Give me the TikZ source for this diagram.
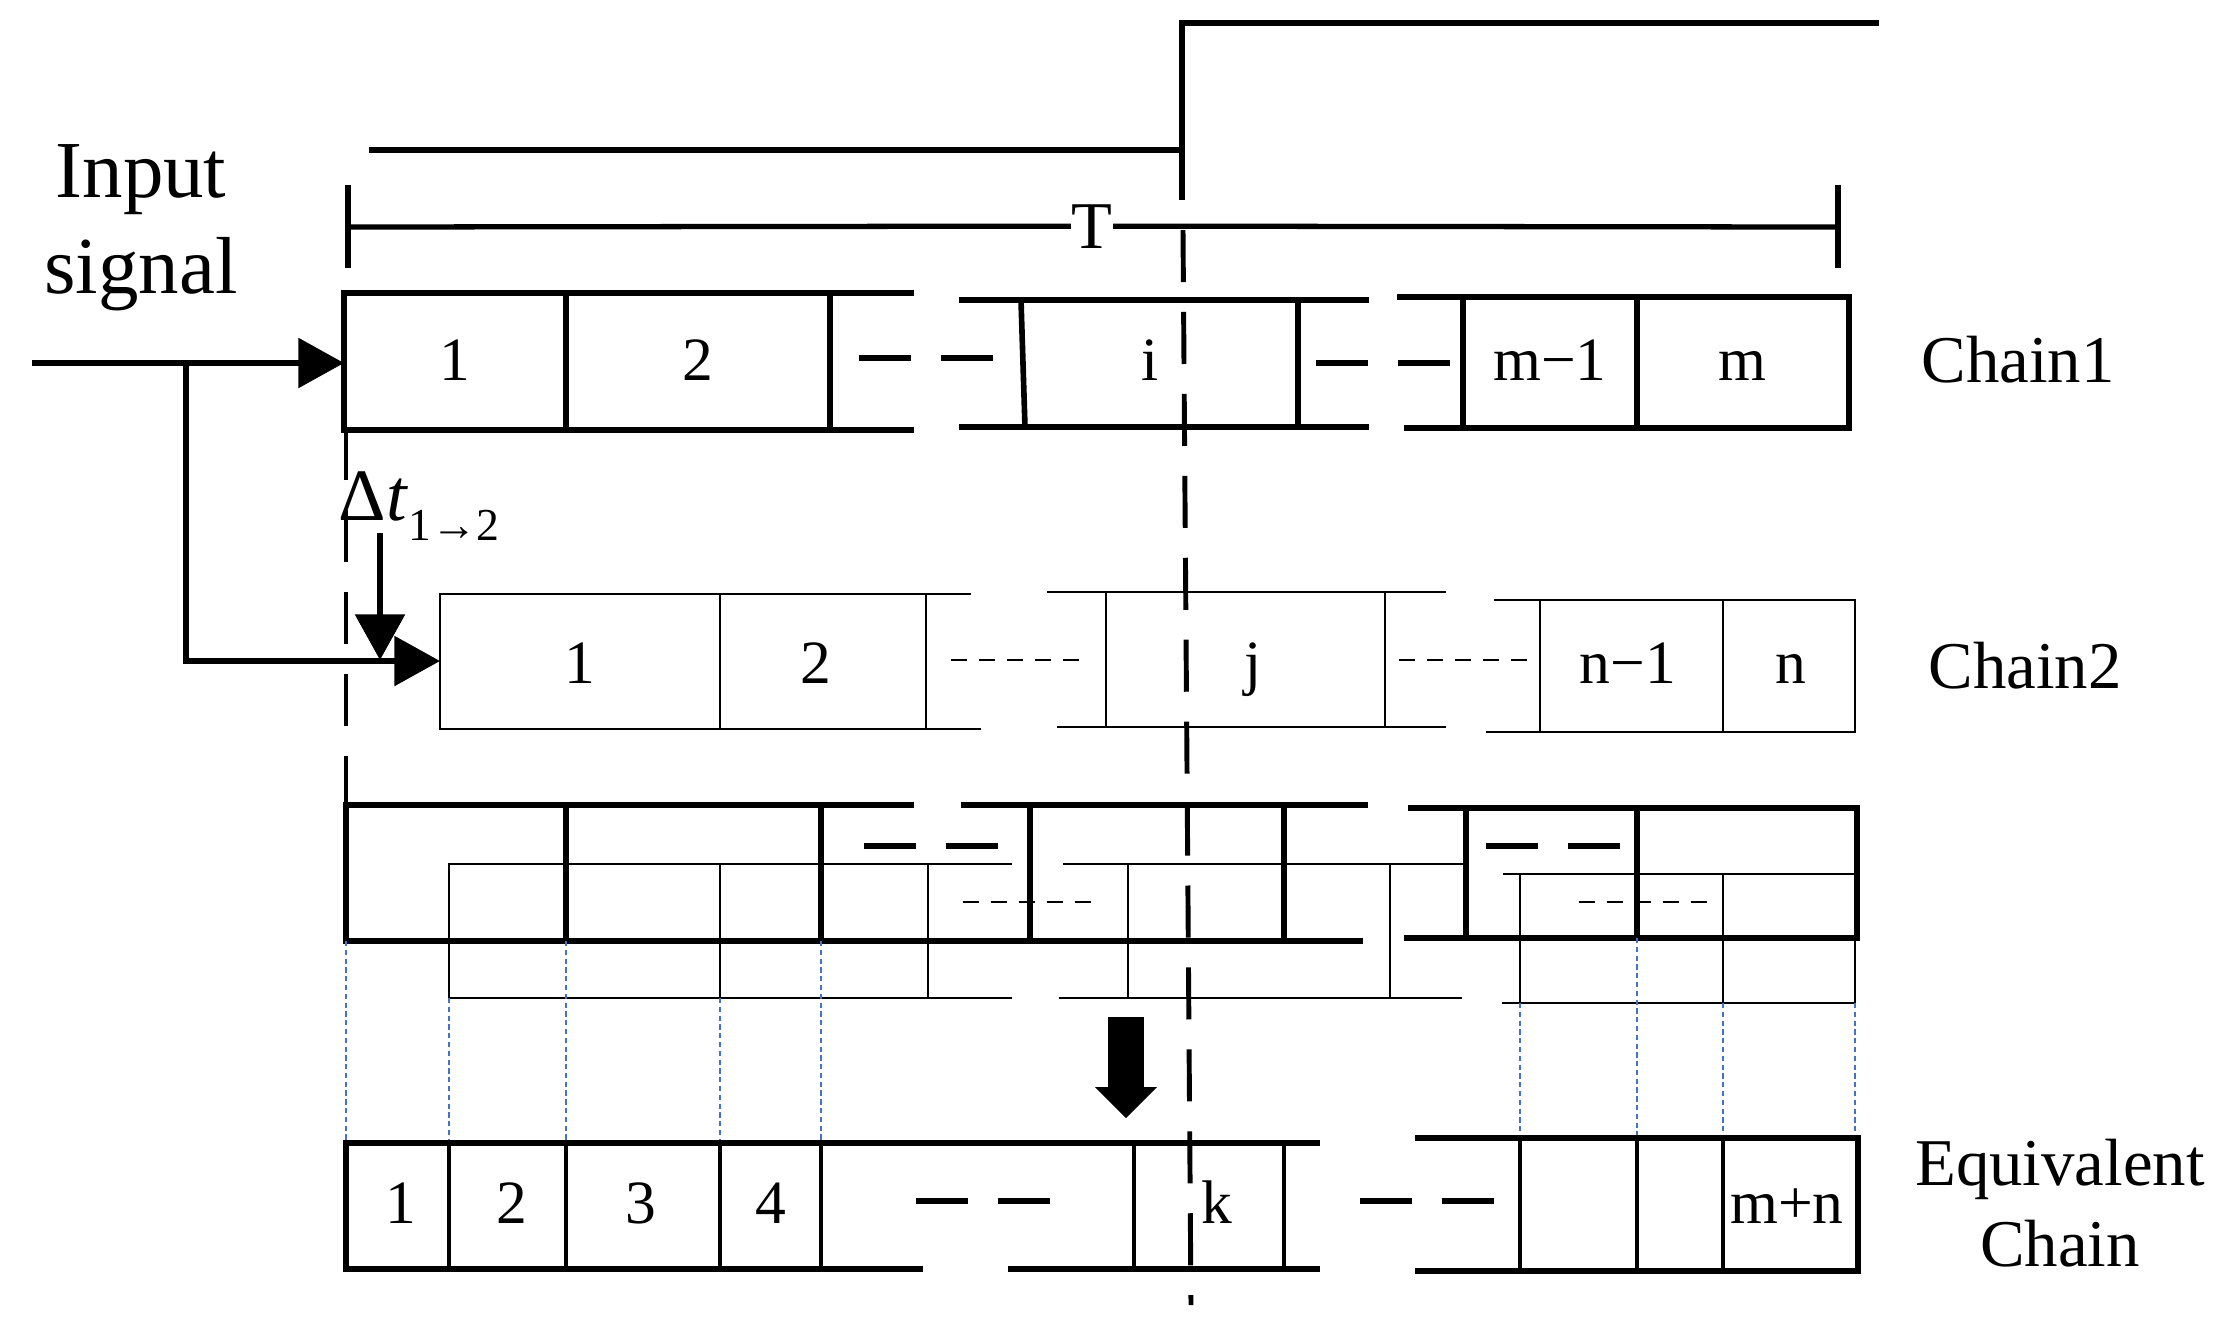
\documentclass[tikz,border=0pt]{standalone}
\usepackage{fontspec}
\setmainfont{Liberation Serif}
\usetikzlibrary{arrows.meta}
\definecolor{guideblue}{HTML}{4472C4}
\tikzset{
  thk/.style={line width=1.6pt},
  medln/.style={line width=1.1pt},
  thn/.style={line width=0.65pt},
  sig/.style={line width=1.5pt},
  cutline/.style={line width=1.4pt,dash pattern=on 14.8pt off 8.5pt},
  gapdash/.style={line width=1.7pt,dash pattern=on 14.8pt off 8.5pt},
  gapdots/.style={line width=0.65pt,dash pattern=on 4.55pt off 3.4pt},
  guide/.style={guideblue,line width=0.5pt,dash pattern=on 1.5pt off 1pt},
  cell/.style={anchor=base,inner sep=0pt,font=\fontsize{17.5}{18}\selectfont},
  lbl/.style={anchor=base,inner sep=0pt,align=center,font=\fontsize{19}{22.8}\selectfont},
  tipA/.style={-{Triangle[length=13pt,width=14pt]}}
}

\begin{document}
\begin{tikzpicture}[x=0.01cm,y=-0.01cm]
  \useasboundingbox (0,0) rectangle (2226,1338);

  \draw[sig] (369,150) -- (1182,150);
  \draw[sig] (1182,200) -- (1182,23) -- (1879,23);
  \node[lbl] (T) at (1092,248) {T};
  \draw[sig] (348,227) -- (T.west) (T.east) -- (1838,227);
  \draw[sig] (348,185) -- (348,268) (1838,185) -- (1838,268);
  \draw[cutline] (1183,230) -- (1191,1305);
  \draw[cutline] (346,428) -- (346,803);

  \node[lbl,font=\fontsize{23}{27.3}\selectfont] (insig) at (141,293) {Input\\signal};
  \coordinate (src) at (32,363);
  \coordinate (fork) at (186,363);
  \coordinate (fork2) at (186,661);
  \coordinate (c1in) at (344,363);
  \coordinate (c2in) at (440,661);
  \draw[sig,tipA] (src) -- (c1in);
  \draw[sig,tipA] (fork) -- (fork2) -- (c2in);
  \coordinate (dttop) at (380,533);
  \coordinate (dtbot) at (380,660);
  \draw[sig,tipA] (dttop) -- (dtbot);
  \node[anchor=base west,inner sep=0pt,font=\fontsize{21}{21}\selectfont] (dt) at (338,520)
    {Δ\textit{t}\raisebox{-5.7pt}{\fontsize{13}{13}\selectfont 1→2}};

  \draw[thk] (914,293) -- (344,293) -- (344,430) -- (914,430);
  \foreach \x in {566,830} \draw[thk] (\x,293) -- (\x,430);
  \draw[thk] (959,300) -- (1369,300) (959,427) -- (1369,427);
  \draw[thk] (1021,300) -- (1025,427) (1298,300) -- (1298,427);
  \draw[thk] (1397,297) -- (1849,297) -- (1849,428) -- (1404,428);
  \foreach \x in {1463,1637} \draw[thk] (\x,297) -- (\x,428);
  \draw[gapdash] (859,358) -- (993,358);
  \draw[gapdash] (1316,363) -- (1450,363);
  \node[cell] (c1a) at (455,380) {1};
  \node[cell] (c1b) at (698,380) {2};
  \node[cell] (c1i) at (1150,380) {i};
  \node[cell] (c1m1) at (1550,380) {m−1};
  \node[cell] (c1m) at (1742,380) {m};
  \node[lbl] (ch1) at (2018,382) {Chain1};

  \draw[thn] (971,594) -- (440,594) -- (440,729) -- (981,729);
  \foreach \x in {720,926} \draw[thn] (\x,594) -- (\x,729);
  \draw[thn] (1047,592) -- (1446,592) (1057,727) -- (1446,727);
  \foreach \x in {1106,1385} \draw[thn] (\x,592) -- (\x,727);
  \draw[thn] (1494,600) -- (1855,600) -- (1855,732) -- (1486,732);
  \foreach \x in {1540,1723} \draw[thn] (\x,600) -- (\x,732);
  \draw[gapdots] (951,660) -- (1082,660);
  \draw[gapdots] (1399,660) -- (1532,660);
  \node[cell] (c2a) at (580,683) {1};
  \node[cell] (c2b) at (816,683) {2};
  \node[cell] (c2j) at (1253,683) {j};
  \node[cell] (c2n1) at (1628,683) {n−1};
  \node[cell] (c2n) at (1791,683) {n};
  \node[lbl] (ch2) at (2025,688) {Chain2};

  \draw[thk] (914,805) -- (346,805) -- (346,941) -- (1363,941);
  \draw[thk] (961,805) -- (1368,805);
  \foreach \x in {566,821,1030,1284} \draw[thk] (\x,805) -- (\x,941);
  \draw[thk] (1408,808) -- (1857,808) -- (1857,938) -- (1404,938);
  \foreach \x in {1466,1637} \draw[thk] (\x,808) -- (\x,938);
  \draw[gapdash] (864,846) -- (998,846);
  \draw[gapdash] (1486,846) -- (1620,846);
  \draw[thn] (1012,864) -- (449,864) -- (449,998) -- (1012,998);
  \foreach \x in {720,928} \draw[thn] (\x,864) -- (\x,998);
  \draw[thn] (1063,864) -- (1464,864) (1059,998) -- (1462,998);
  \foreach \x in {1128,1390} \draw[thn] (\x,864) -- (\x,998);
  \draw[thn] (1503,874) -- (1855,874) -- (1855,1003) -- (1502,1003);
  \foreach \x in {1520,1723} \draw[thn] (\x,874) -- (\x,1003);
  \draw[gapdots] (963,902) -- (1093,902);
  \draw[gapdots] (1579,902) -- (1713,902);

  \foreach \x/\y in {346/941,449/998,566/941,720/998,821/941}
    \draw[guide] (\x,\y) -- (\x,1143);
  \foreach \x/\y in {1520/1003,1637/938,1723/1003,1855/1003}
    \draw[guide] (\x,\y) -- (\x,1138);

  \coordinate (mtop) at (1126,1017);
  \coordinate (mbot) at (1126,1118);
  \draw[line width=10pt,-{Triangle[length=8.8pt,width=17.6pt,line width=0pt]}] (mtop) -- (mbot);

  \draw[thk] (1320,1143) -- (346,1143) -- (346,1269) -- (923,1269);
  \draw[thk] (1008,1269) -- (1320,1269);
  \foreach \x in {449,566,720,821,1134,1284} \draw[medln] (\x,1143) -- (\x,1269);
  \draw[thk] (1415,1138) -- (1858,1138) -- (1858,1271) -- (1415,1271);
  \foreach \x in {1520,1637,1723} \draw[medln] (\x,1138) -- (\x,1271);
  \draw[gapdash] (916,1201) -- (1050,1201);
  \draw[gapdash] (1360,1201) -- (1494,1201);
  \node[cell] (e1) at (401,1223) {1};
  \node[cell] (e2) at (512,1223) {2};
  \node[cell] (e3) at (641,1223) {3};
  \node[cell] (e4) at (771,1223) {4};
  \node[cell] (ek) at (1217,1223) {k};
  \node[cell] (emn) at (1787,1223) {m+n};
  \node[lbl] (eqch) at (2060,1266) {Equivalent\\Chain};
\end{tikzpicture}
\end{document}
